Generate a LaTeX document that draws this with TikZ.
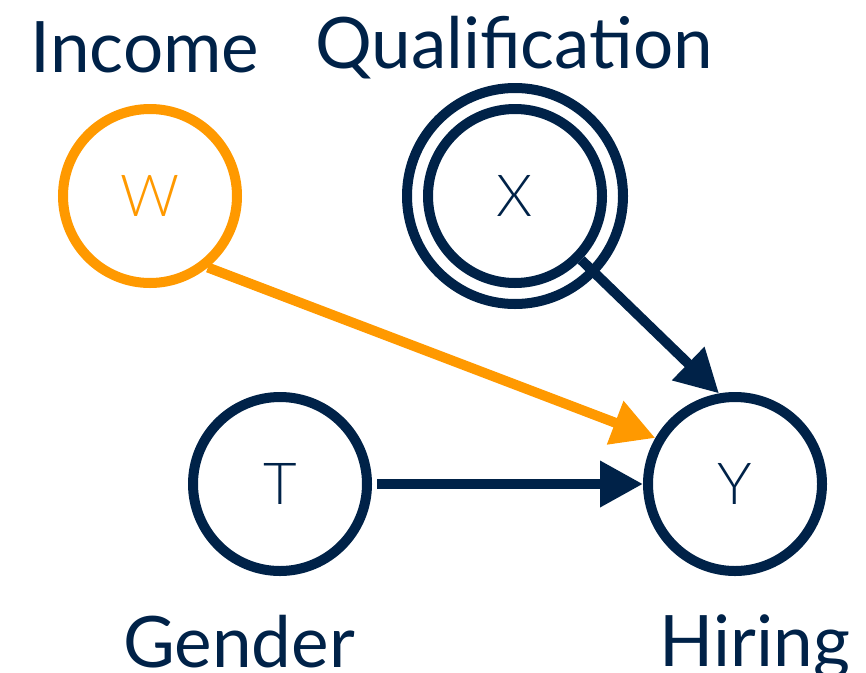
\documentclass[tikz,border=0pt]{standalone}
\usepackage{fontspec}
\setmainfont{Lato}
\newfontfamily\lightfont{Lato Light}
\usetikzlibrary{arrows.meta}
\definecolor{navy}{RGB}{0,34,72}
\definecolor{orng}{RGB}{255,153,0}
\begin{document}
\begin{tikzpicture}[x=1pt,y=-1pt,
  var/.style={circle, draw=navy, line width=10pt, minimum size=174pt, inner sep=0pt,
    font=\lightfont\fontsize{58}{60}\selectfont, text=navy},
  lbl/.style={anchor=base, text=navy, font=\fontsize{71}{80}\selectfont, inner sep=0pt},
  edge/.style={color=navy, line width=10pt, -{Triangle[length=43pt,width=44pt]}}]
\useasboundingbox (0,0) rectangle (866,672);
% variables
\node[var, draw=orng, text=orng] (W) at (150,196) {W};
\node[var] (X) at (515,196) {X};
\node[var] (T) at (280,484) {T};
\node[var] (Y) at (735,484) {Y};
\draw[navy, line width=10pt] (X.center) circle (108pt);
% labels
\node[lbl] (lIncome) at (145,72) {Income};
\node[lbl] (lQual) at (514,68) {Qualification};
\node[lbl] (lGender) at (239,667) {Gender};
\node[lbl] (lHiring) at (755,666) {Hiring};
% edges
\draw[edge, color=orng] (W.-51) -- (Y.150);
\draw[edge] (X.-44) -- (Y.100);
\draw[edge, shorten <=5pt] (T) -- (Y);
\end{tikzpicture}
\end{document}
